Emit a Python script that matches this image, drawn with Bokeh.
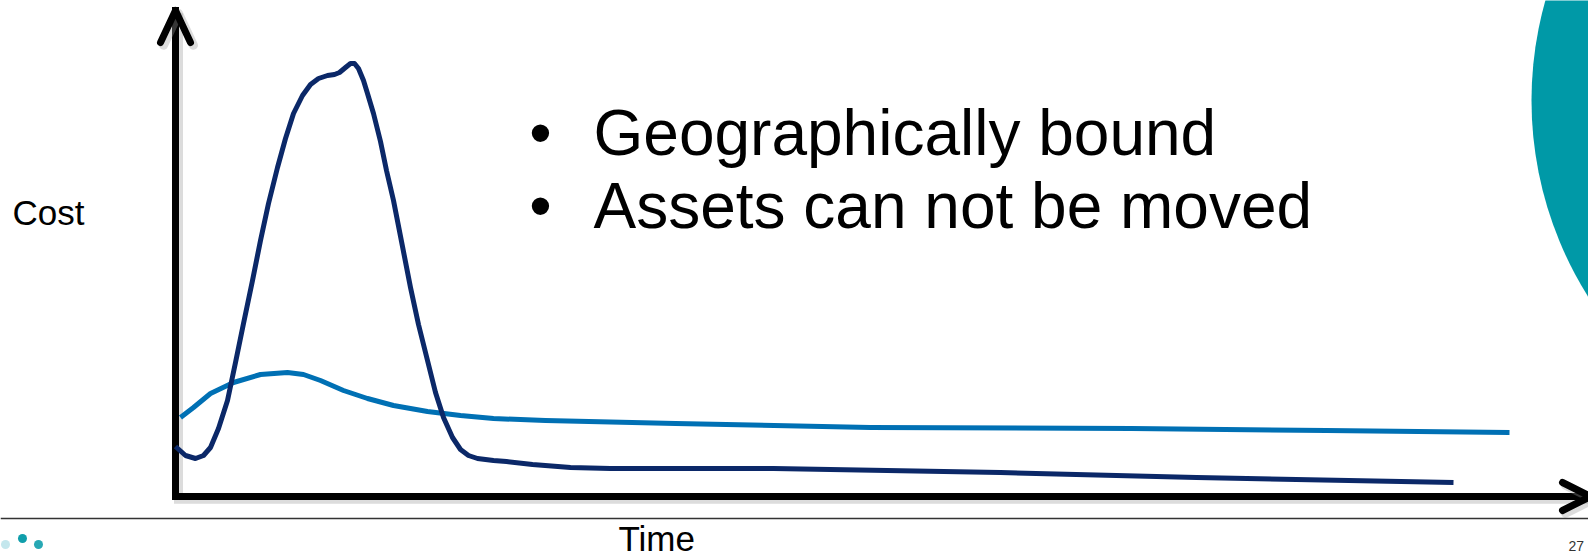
from bokeh.plotting import figure
from bokeh.models import Range1d, Span
from bokeh.core.properties import value
from bokeh.embed import file_html
from bokeh.resources import INLINE

# Cost over time for two kinds of infrastructure (arbitrary units)
fixed_time = [0.0, 1.0, 2.0, 2.8, 3.5, 4.3, 5.2, 6.0, 6.8, 7.7, 8.5, 9.3, 10.2, 11.0,
              11.8, 12.7, 13.5, 14.3, 15.2, 15.9, 16.4, 17.0, 17.5, 17.9, 18.3, 18.8,
              19.2, 19.8, 20.5, 21.1, 21.8, 22.7, 23.5, 24.3, 25.2, 26.0, 26.8, 27.7,
              28.5, 29.3, 30.2, 31.8, 33.1, 35.7, 39.5, 43.5, 59.8, 82.5, 102.1, 127.8]
fixed_cost = [12.5, 10.25, 9.5, 10.25, 12.25, 17.0, 24.0, 33.5, 43.25, 54.0, 64.0, 73.25,
              82.25, 89.5, 95.75, 100.25, 103.0, 104.5, 105.25, 105.5, 106.0, 107.25,
              108.25, 108.25, 107.0, 104.0, 100.75, 95.75, 88.75, 81.5, 74.0, 62.5,
              52.25, 43.0, 34.0, 26.0, 19.75, 14.75, 11.75, 10.25, 9.5, 9.0, 8.75, 8.0,
              7.25, 7.0, 7.0, 6.0, 4.75, 3.5]

flex_time = [0.5, 1.8, 3.5, 5.8, 8.5, 11.2, 12.8, 14.5, 16.8, 19.2, 21.8, 25.2, 28.5,
             31.8, 37.0, 50.0, 69.5, 95.6, 115.1, 133.4]
flex_cost = [19.75, 22.25, 25.75, 28.5, 30.5, 31.0, 30.5, 29.0, 26.5, 24.5, 22.75, 21.25,
             20.25, 19.5, 19.0, 18.25, 17.25, 17.0, 16.5, 16.0]

bullets = ["Geographically bound", "Assets can not be moved"]
y_label = "Cost"
x_label = "Time"
page_number = "27"

FONT = value("Liberation Sans")
NAVY = "#0b2868"
BLUE = "#0070b4"
TEAL = "#0099a7"

p = figure(width=1588, height=557, output_backend="svg", toolbar_location=None,
           x_range=Range1d(-17.5, 141.3), y_range=Range1d(-15.25, 124.0),
           x_axis_location=None, y_axis_location=None, min_border=0)
p.grid.visible = False
p.outline_line_color = None
p.background_fill_color = "white"
p.border_fill_color = "white"

# decorative teal disc at the right edge
p.circle(x=[172.4], y=[99.0], radius=36.8, radius_dimension="x",
         fill_color=TEAL, line_color=None)

# thin footer rule
p.add_layout(Span(location=-5.5, dimension="width", line_color="#333333", line_width=1.5))

# footer logo dots
p.scatter(x=[-17.0, -15.3, -13.7], y=[-12.0, -10.5, -12.0], size=9,
          fill_color=["#c4e7ed", "#109eab", "#27a8b4"], line_color=None)

# hand-drawn style axes with soft shadow
ax_x = [0.0, 0.0, 141.5]
ax_y = [121.5, 0.0, 0.0]
p.line([v + 0.3 for v in ax_x], [v - 0.7 for v in ax_y], line_color="#9a9a9a",
       line_alpha=0.35, line_width=9, line_join="miter")
p.line(ax_x, ax_y, line_color="black", line_width=7, line_join="miter", line_cap="square")
# arrow heads
for hx, hy in (([-1.5, 0.0, 1.5], [113.5, 121.5, 113.5]),
               ([138.7, 141.5, 138.7], [3.5, 0.0, -3.5])):
    p.line([v + 0.3 for v in hx], [v - 0.7 for v in hy], line_color="#9a9a9a",
           line_alpha=0.35, line_width=9, line_join="round", line_cap="round")
    p.line(hx, hy, line_color="black", line_width=7, line_join="round", line_cap="round")

# the two cost curves
p.line(flex_time, flex_cost, line_color=BLUE, line_width=5, line_join="round",
       line_cap="butt")
p.line(fixed_time, fixed_cost, line_color=NAVY, line_width=5, line_join="round",
       line_cap="butt")

# axis captions
p.text(x=[-16.3], y=[71.0], text=[y_label], text_font=FONT, text_font_size="35px",
       text_color="black", text_baseline="middle", text_align="left")
p.text(x=[44.3], y=[-10.6], text=[x_label], text_font=FONT, text_font_size="35px",
       text_color="black", text_baseline="alphabetic", text_align="left")
p.text(x=[139.3], y=[-11.2], text=[page_number], text_font=FONT, text_font_size="14px",
       text_color="#333333", text_baseline="top", text_align="left")

# bullet list
p.text(x=[36.5, 36.5], y=[91.0, 72.75], text=["\u2022", "\u2022"], text_font=FONT,
       text_font_size="64px", text_color="black", text_baseline="alphabetic",
       text_align="center")
p.text(x=[41.8, 41.8], y=[91.0, 72.75], text=bullets, text_font=FONT,
       text_font_size="64px", text_color="black", text_baseline="alphabetic",
       text_align="left")

open("out.html", "w").write(file_html(p, INLINE))
